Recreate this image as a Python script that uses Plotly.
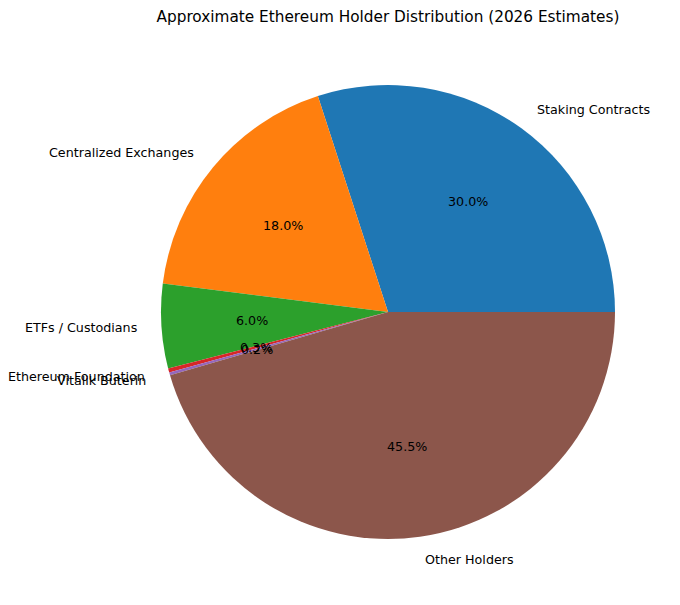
import numpy as np
import plotly.graph_objects as go

labels = ["Staking Contracts", "Centralized Exchanges", "ETFs / Custodians",
          "Ethereum Foundation", "Vitalik Buterin", "Other Holders"]
shares = [30.0, 18.0, 6.0, 0.3, 0.2, 45.5]
colors = ["#1f77b4", "#ff7f0e", "#2ca02c", "#d62728", "#9467bd", "#8c564b"]

# page is 680x605 but the html body has an 8px margin, so the figure is smaller
PAD = 8
W, H = 680 - 2 * PAD, 605 - 2 * PAD
cx_px, cy_px, r_px = 388 - PAD, 312 - PAD, 227

total = sum(shares)

fig = go.Figure()
fig.add_trace(go.Pie(
    labels=labels,
    values=shares,
    marker=dict(colors=colors, line=dict(width=0)),
    sort=False,
    direction="counterclockwise",
    # plotly puts the end of the first ccw slice at `rotation`; matplotlib starts it at 3 o'clock
    rotation=90 - 360 * shares[0] / total,
    textinfo="none",
    hoverinfo="label+percent",
    showlegend=False,
    domain=dict(x=[(cx_px - r_px) / W, (cx_px + r_px) / W],
                y=[1 - (cy_px + r_px) / H, 1 - (cy_px - r_px) / H]),
))

# matplotlib-style label placement: names at 1.1 r, percentages at 0.6 r
cx, cy = cx_px / W, 1 - cy_px / H
rx, ry = r_px / W, r_px / H
annotations = []
start = 0.0
for name, v in zip(labels, shares):
    mid = np.deg2rad(360 * (start + v / 2) / total)
    start += v
    c, s = np.cos(mid), np.sin(mid)
    annotations.append(dict(
        x=cx + 1.1 * rx * c, y=cy + 1.1 * ry * s, xref="paper", yref="paper",
        text=name, showarrow=False, xanchor="left" if c > 0 else "right",
        yanchor="middle", font=dict(size=12.7, color="black")))
    annotations.append(dict(
        x=cx + 0.6 * rx * c, y=cy + 0.6 * ry * s, xref="paper", yref="paper",
        text=f"{100 * v / total:.1f}%", showarrow=False, xanchor="center",
        yanchor="middle", font=dict(size=12.7, color="black")))

fig.update_layout(
    width=W, height=H,
    margin=dict(l=0, r=0, t=0, b=0),
    paper_bgcolor="white",
    font=dict(family="DejaVu Sans", color="black"),
    title=dict(text="Approximate Ethereum Holder Distribution (2026 Estimates)",
               x=cx, xanchor="center", y=1 - (17 - PAD) / H, yanchor="middle",
               font=dict(size=15.3, color="black")),
    annotations=annotations,
)

fig.write_html("out.html")
